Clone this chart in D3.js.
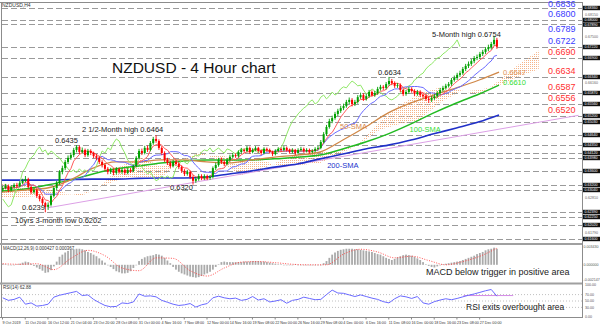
<!DOCTYPE html>
<html><head><meta charset="utf-8">
<script src="https://cdn.jsdelivr.net/npm/d3@7"></script>
<style>body{margin:0;background:#fff}svg{display:block;font-family:"Liberation Sans",Arial,sans-serif}</style>
</head><body><svg id="c" width="600" height="327"></svg>
<script>
// ---------- DATA (8-hour candles, 2 bars of 4h each) ----------
const firstOpen = 0.6305;
const closes = [
.6310,.6316,.6304,.6313,.6319,.6316,.6325,.6331,.6336,.6313,
.6298,.6304,.6287,.6278,.6266,.6255,.6261,.6287,.6310,.6325,
.6357,.6368,.6386,.6398,.6406,.6421,.6430,.6415,.6421,.6406,
.6418,.6412,.6403,.6398,.6386,.6377,.6366,.6357,.6363,.6354,
.6366,.6357,.6363,.6354,.6363,.6360,.6374,.6398,.6418,.6412,
.6427,.6421,.6441,.6453,.6447,.6427,.6412,.6392,.6383,.6374,
.6386,.6380,.6371,.6360,.6351,.6357,.6342,.6331,.6336,.6345,
.6339,.6345,.6339,.6342,.6368,.6377,.6392,.6386,.6380,.6392,
.6401,.6406,.6403,.6415,.6421,.6418,.6427,.6415,.6421,.6427,
.6418,.6412,.6424,.6421,.6415,.6409,.6418,.6424,.6421,.6427,
.6421,.6415,.6421,.6412,.6421,.6424,.6418,.6421,.6415,.6418,
.6424,.6427,.6444,.6467,.6488,.6505,.6514,.6526,.6535,.6543,
.6549,.6561,.6567,.6555,.6561,.6575,.6581,.6570,.6578,.6590,
.6581,.6587,.6599,.6605,.6602,.6613,.6622,.6616,.6608,.6610,
.6596,.6584,.6590,.6599,.6593,.6584,.6590,.6581,.6578,.6570,
.6567,.6572,.6578,.6587,.6596,.6602,.6608,.6613,.6625,.6631,
.6640,.6645,.6657,.6666,.6672,.6680,.6689,.6692,.6701,.6707,
.6715,.6721,.6730,.6742,.6722];
const highs = [
.6316,.6322,.6320,.6318,.6324,.6325,.6330,.6337,.6345,.6340,
.6317,.6311,.6308,.6292,.6283,.6270,.6268,.6292,.6316,.6331,
.6362,.6375,.6392,.6405,.6413,.6427,.6435,.6434,.6428,.6425,
.6424,.6423,.6416,.6409,.6402,.6391,.6382,.6371,.6369,.6367,
.6371,.6370,.6368,.6367,.6369,.6368,.6379,.6403,.6424,.6425,
.6433,.6434,.6447,.6459,.6464,.6452,.6432,.6417,.6398,.6389,
.6392,.6391,.6385,.6376,.6365,.6363,.6361,.6347,.6342,.6351,
.6350,.6350,.6349,.6348,.6373,.6384,.6398,.6399,.6391,.6397,
.6407,.6412,.6411,.6420,.6427,.6426,.6433,.6431,.6426,.6432,
.6430,.6422,.6429,.6428,.6425,.6419,.6423,.6429,.6428,.6432,
.6431,.6425,.6426,.6424,.6426,.6430,.6428,.6426,.6425,.6423,
.6429,.6433,.6450,.6473,.6494,.6512,.6521,.6532,.6541,.6550,
.6556,.6567,.6574,.6572,.6567,.6581,.6588,.6586,.6584,.6596,
.6595,.6593,.6605,.6611,.6610,.6619,.6634,.6628,.6621,.6616,
.6615,.6601,.6596,.6605,.6604,.6598,.6596,.6595,.6587,.6583,
.6576,.6578,.6584,.6593,.6602,.6608,.6614,.6619,.6631,.6638,
.6646,.6652,.6663,.6672,.6679,.6686,.6695,.6699,.6707,.6713,
.6721,.6728,.6736,.6754,.6748];
const lows = [
.6299,.6306,.6298,.6300,.6309,.6311,.6312,.6321,.6327,.6308,
.6292,.6293,.6281,.6271,.6259,.6239,.6246,.6256,.6282,.6304,
.6320,.6350,.6362,.6380,.6392,.6400,.6414,.6409,.6410,.6400,
.6401,.6406,.6397,.6391,.6380,.6370,.6360,.6350,.6351,.6347,
.6349,.6352,.6351,.6348,.6350,.6354,.6356,.6370,.6393,.6406,
.6408,.6415,.6417,.6436,.6442,.6421,.6406,.6386,.6377,.6368,
.6370,.6374,.6365,.6354,.6345,.6346,.6336,.6320,.6325,.6331,
.6333,.6334,.6333,.6334,.6338,.6362,.6372,.6380,.6374,.6376,
.6387,.6396,.6398,.6399,.6410,.6413,.6414,.6410,.6411,.6417,
.6413,.6406,.6408,.6416,.6410,.6403,.6405,.6414,.6416,.6417,
.6416,.6410,.6411,.6406,.6408,.6417,.6413,.6414,.6410,.6411,
.6414,.6420,.6423,.6440,.6462,.6483,.6499,.6509,.6520,.6529,
.6537,.6544,.6555,.6548,.6549,.6556,.6570,.6564,.6565,.6573,
.6576,.6576,.6582,.6594,.6596,.6597,.6608,.6610,.6602,.6602,
.6590,.6578,.6579,.6585,.6588,.6578,.6579,.6575,.6572,.6564,
.6558,.6561,.6567,.6573,.6582,.6591,.6597,.6603,.6608,.6620,
.6625,.6634,.6640,.6651,.6660,.6666,.6674,.6683,.6686,.6695,
.6701,.6709,.6714,.6725,.6716];

// moving averages, one value every 16 bars (last at bar 350)
const smaBars = [0,16,32,48,64,80,96,112,128,144,160,176,192,208,224,240,256,272,288,304,320,336,350];
const sma50  = [.6298,.6304,.6310,.6333,.6368,.6386,.6386,.6392,.6392,.6386,.6383,.6392,.6400,.6406,.6415,.6450,.6488,.6529,.6558,.6581,.6602,.6625,.6648];
const sma100 = [.6301,.6307,.6319,.6333,.6351,.6366,.6374,.6383,.6389,.6392,.6392,.6392,.6395,.6400,.6406,.6424,.6444,.6468,.6497,.6529,.6558,.6584,.6610];
const sma200 = [.6333,.6333,.6333,.6335,.6336,.6336,.6338,.6339,.6339,.6342,.6351,.6360,.6371,.6380,.6395,.6409,.6424,.6435,.6450,.6468,.6485,.6503,.6523];

// ichimoku cloud spans, one value every 14 bars from bar 0
const spanA = [.6322,.6316,.6310,.6298,.6287,.6317,.6375,.6400,.6373,.6392,.6415,.6386,.6347,.6363,.6390,.6411,.6418,.6418,.6441,.6505,.6552,.6584,.6603,.6596,.6582,.6623,.6671,.6711];
const spanB = [.6281,.6284,.6287,.6290,.6293,.6315,.6337,.6337,.6340,.6391,.6405,.6405,.6392,.6392,.6374,.6377,.6383,.6410,.6438,.6480,.6497,.6508,.6558,.6591,.6596,.6610,.6635,.6656];

// MACD main (histogram), one per candle
const macd = [
.0002,.0001,.0000,-.0001,.0000,.0001,.0002,.0004,.0006,.0005,
.0002,-.0002,-.0005,-.0008,-.0011,-.0015,-.0014,-.0010,-.0003,.0006,
.0015,.0019,.0023,.0026,.0028,.0029,.0030,.0030,.0029,.0027,
.0024,.0022,.0019,.0016,.0012,.0008,.0004,.0000,-.0004,-.0008,
-.0012,-.0014,-.0016,-.0016,-.0015,-.0012,-.0006,.0000,.0007,.0011,
.0014,.0016,.0017,.0018,.0020,.0019,.0017,.0013,.0008,.0003,
-.0004,-.0009,-.0013,-.0016,-.0018,-.0020,-.0022,-.0023,-.0024,-.0023,
-.0021,-.0018,-.0016,-.0013,-.0009,-.0004,.0001,.0005,.0006,.0005,
.0005,.0005,.0005,.0005,.0005,.0006,.0006,.0006,.0007,.0007,
.0007,.0006,.0006,.0005,.0004,.0003,.0002,.0001,.0001,.0000,
.0000,.0000,.0000,.0001,.0000,.0000,-.0001,-.0001,-.0001,-.0001,
-.0001,-.0001,.0000,.0003,.0007,.0013,.0019,.0023,.0026,.0028,
.0029,.0030,.0030,.0030,.0029,.0029,.0028,.0027,.0026,.0025,
.0024,.0022,.0020,.0019,.0016,.0013,.0011,.0009,.0011,.0014,
.0016,.0018,.0019,.0018,.0017,.0015,.0012,.0009,.0005,.0001,
-.0002,-.0004,-.0005,-.0003,-.0001,.0001,.0002,.0003,.0004,.0005,
.0006,.0007,.0009,.0011,.0013,.0015,.0017,.0020,.0022,.0024,
.0027,.0029,.0030,.0032,.0030];
// MACD signal, one value every 6 candles
const signal = [.0002,.0001,.0002,-.0009,.0012,.0027,.0017,-.0006,-.0011,.0013,.0012,-.0011,-.0021,-.0006,.0005,.0006,.0004,.0001,.0000,.0000,.0020,.0029,.0024,.0013,.0016,.0008,.0000,.0006,.0016,.0031];
// RSI(14), one value every 2 candles
const rsi = [60,52,55,62,40,44,34,36,40,62,68,72,76,80,67,69,55,45,36,32,
33,44,42,47,72,65,66,63,52,46,40,36,38,42,31,38,42,60,65,60,
57,59,52,55,64,53,57,47,50,54,43,52,55,62,58,54,55,70,84,75,
74,69,64,69,64,59,55,48,44,57,66,63,58,64,44,40,48,53,57,54,
58,63,68,72,77,82,86,65];

const levels = [0.6836,0.6800,0.6789,0.6722,0.6690,0.6634,0.6587,0.6556,0.6520,0.6503,0.6464,0.6435,0.6412,0.6398,0.6360,0.6320,0.6304,0.6239,0.6225,0.6202,0.6160];
const blueLabels = [0.6836,0.6800,0.6789,0.6722];
const redLabels = [0.6690,0.6634,0.6587,0.6556,0.6520];
const grayTicks = [0.6815,0.6750,0.6678,0.6616,0.6479,0.6444,0.6383,0.6281,0.6179];
const timeLabels = ["9 Oct 2019","11 Oct 20:00","16 Oct 12:00","21 Oct 04:00","23 Oct 20:00","28 Oct 08:00","31 Oct 00:00","4 Nov 16:00","7 Nov 08:00","12 Nov 00:00","14 Nov 16:00","19 Nov 08:00","22 Nov 00:00","26 Nov 16:00","29 Nov 08:00","4 Dec 00:00","6 Dec 16:00","11 Dec 08:00","16 Dec 00:00","18 Dec 16:00","23 Dec 08:00","27 Dec 00:00"];
const trendLine = [{bar:32, price:0.6252},{bar:406, price:0.6522}];
const annotations = [
 {t:"5-Month high 0.6754", bar:302.8, p:0.6754, dy:1},
 {t:"0.6634", bar:264.8, p:0.6634, dy:-2},
 {t:"2 1/2-Month high 0.6464", bar:56.3, p:0.6464, dy:-3},
 {t:"0.6435", bar:37.3, p:0.6435, dy:-2},
 {t:"0.6320", bar:118.3, p:0.6320, dy:5},
 {t:"0.6239", bar:14.1, p:0.6239, dy:-2},
 {t:"10yrs 3-month low 0.6202", bar:9.2, p:0.6202, dy:-2}
];
const maLabels = [
 {t:"50-SMA", bar:238, p:0.6482, c:"#d8874a"},
 {t:"100-SMA", bar:287, p:0.6473, c:"#33dd33"},
 {t:"200-SMA", bar:229, p:0.6368, c:"#2233cc"},
 {t:"0.6647", bar:352.8, p:0.6640, c:"#e0955a"},
 {t:"0.6610", bar:352.8, p:0.6610, c:"#33dd33"}
];

// ---------- SCALES ----------
const svg = d3.select('#c');
const PL = 2, PR = 582;
const xBar = d3.scaleLinear().domain([0,408]).range([2,581.4]);
const yMain = d3.scaleLinear().domain([0.6520,0.6800]).range([116,20]);
const yMacd = d3.scaleLinear().domain([-0.0034,0.0037]).range([283,245]);
const yRsi = d3.scaleLinear().domain([0,100]).range([317,285]);
const cx = k => xBar(2*k+0.5);

const defs = svg.append('defs');
defs.append('clipPath').attr('id','clipMain').append('rect').attr('x',PL).attr('y',3).attr('width',PR-PL).attr('height',240);
const pat = defs.append('pattern').attr('id','dots').attr('width',2).attr('height',2).attr('patternUnits','userSpaceOnUse');
pat.append('rect').attr('width',1).attr('height',1).attr('fill','#f6b488');

// ---------- FRAME ----------
const frame = svg.append('g').attr('stroke','#8c8c8c').attr('fill','none');
frame.append('line').attr('x1',0).attr('x2',PR).attr('y1',2.5).attr('y2',2.5);
frame.append('line').attr('x1',1.5).attr('x2',1.5).attr('y1',2).attr('y2',318);
frame.append('line').attr('x1',PR+0.5).attr('x2',PR+0.5).attr('y1',2).attr('y2',318);
frame.append('line').attr('x1',0).attr('x2',PR).attr('y1',244).attr('y2',244).attr('stroke-width',2).attr('stroke','#a0a0a0');
frame.append('line').attr('x1',0).attr('x2',PR).attr('y1',283.5).attr('y2',283.5).attr('stroke-width',2).attr('stroke','#a0a0a0');
frame.append('line').attr('x1',0).attr('x2',PR).attr('y1',317.5).attr('y2',317.5);

// ---------- MAIN PANEL ----------
const main = svg.append('g').attr('clip-path','url(#clipMain)');
main.selectAll('line.lvl').data(levels).join('line').attr('class','lvl')
  .attr('x1',PL).attr('x2',PR)
  .attr('y1',d=>Math.round(yMain(d))+0.5).attr('y2',d=>Math.round(yMain(d))+0.5)
  .attr('stroke','#9a9a9a').attr('stroke-dasharray','6,3').attr('stroke-width',1);

// cloud
const cloudIdx = d3.range(spanA.length);
main.append('path').datum(cloudIdx)
  .attr('d', d3.area().x(i=>xBar(i*14)).y0(i=>yMain(spanB[i])).y1(i=>yMain(spanA[i])))
  .attr('fill','url(#dots)');

// trend line
main.append('line')
  .attr('x1',xBar(trendLine[0].bar)).attr('y1',yMain(trendLine[0].price))
  .attr('x2',xBar(trendLine[1].bar)).attr('y2',yMain(trendLine[1].price))
  .attr('stroke','#dca0e6').attr('stroke-width',1);

// SMAs
const smaLine = arr => d3.line().x((d,i)=>xBar(smaBars[i])).y(d=>yMain(d)).curve(d3.curveMonotoneX)(arr);
main.append('path').attr('d',smaLine(sma200)).attr('fill','none').attr('stroke','#2030c8').attr('stroke-width',1.6);
main.append('path').attr('d',smaLine(sma100)).attr('fill','none').attr('stroke','#22bb22').attr('stroke-width',1.5);
main.append('path').attr('d',smaLine(sma50)).attr('fill','none').attr('stroke','#d08848').attr('stroke-width',1.3);

// ichimoku lines derived from candles
const N = closes.length;
const opens = closes.map((c,i)=> i===0 ? firstOpen : closes[i-1]);
function midline(p){ return closes.map((_,i)=>{ const s=Math.max(0,i-p+1); return (d3.max(highs.slice(s,i+1))+d3.min(lows.slice(s,i+1)))/2; }); }
const tenkan = midline(5), kijun = midline(13);
const chikouIdx = d3.range(13, N);
main.append('path').datum(chikouIdx)
  .attr('d', d3.line().x(k=>cx(k-13)).y(k=>yMain(closes[k])))
  .attr('fill','none').attr('stroke','#8fe866').attr('stroke-width',1);
main.append('path').datum(kijun)
  .attr('d', d3.line().x((d,i)=>cx(i)).y(d=>yMain(d)))
  .attr('fill','none').attr('stroke','#6a6aff').attr('stroke-width',1);
main.append('path').datum(tenkan)
  .attr('d', d3.line().x((d,i)=>cx(i)).y(d=>yMain(d)))
  .attr('fill','none').attr('stroke','#ff5a5a').attr('stroke-width',1);

// candles
const cd = d3.range(N).map(k=>({k, o:opens[k], c:closes[k], h:highs[k], l:lows[k]}));
const cg = main.append('g');
cg.selectAll('line').data(cd).join('line')
  .attr('x1',d=>cx(d.k)).attr('x2',d=>cx(d.k))
  .attr('y1',d=>yMain(d.h)).attr('y2',d=>yMain(d.l))
  .attr('stroke',d=>d.c>=d.o?'#00a000':'#ff0000').attr('stroke-width',0.9);
cg.selectAll('rect').data(cd).join('rect')
  .attr('x',d=>cx(d.k)-1).attr('width',2)
  .attr('y',d=>yMain(Math.max(d.o,d.c)))
  .attr('height',d=>Math.max(0.8, Math.abs(yMain(d.o)-yMain(d.c))))
  .attr('fill',d=>d.c>=d.o?'#00a000':'#ff0000');

// texts main
svg.append('text').attr('x',2).attr('y',7).attr('font-size',5).attr('fill','#333').text('NZDUSD,H4');
svg.append('text').attr('x',112).attr('y',73).attr('font-size',15.5).attr('fill','#111').text('NZDUSD - 4 Hour chart');
svg.selectAll('text.ann').data(annotations).join('text').attr('class','ann')
  .attr('x',d=>xBar(d.bar)).attr('y',d=>yMain(d.p)+d.dy)
  .attr('font-size',7.5).attr('fill','#222').text(d=>d.t);
svg.selectAll('text.mal').data(maLabels).join('text').attr('class','mal')
  .attr('x',d=>xBar(d.bar)).attr('y',d=>yMain(d.p))
  .attr('font-size',7.5).attr('fill',d=>d.c).text(d=>d.t);
const lblX = xBar(384.5);
svg.selectAll('text.bl').data(blueLabels).join('text').attr('class','bl')
  .attr('x',lblX).attr('y',d=> yMain(d) + (d===0.6789 ? 8 : (d===0.6836 ? -0.5 : -3)))
  .attr('font-size',9).attr('fill','#3b3bff').text(d=>d.toFixed(4));
svg.selectAll('text.rl').data(redLabels).join('text').attr('class','rl')
  .attr('x',lblX).attr('y',d=>yMain(d)-3)
  .attr('font-size',9).attr('fill','#ff3030').text(d=>d.toFixed(4));

// right axis: level boxes, pushed apart so they do not overlap
const ra = svg.append('g');
const boxY = []; let prev = -10;
levels.forEach(d=>{ let y = Math.round(yMain(d))-2.2; if (y < prev+4.6) y = prev+4.6; boxY.push(y); prev = y; });
ra.selectAll('text.g').data(grayTicks.filter(t=>boxY.every(b=>Math.abs(yMain(t)-(b+2.2))>5)))
  .join('text').attr('class','g')
  .attr('x',585).attr('y',d=>yMain(d)+1.3).attr('font-size',3.6).attr('fill','#666').text(d=>d.toFixed(5));
const boxes = ra.selectAll('g.b').data(levels).join('g').attr('class','b')
  .attr('transform',(d,i)=>`translate(583,${boxY[i]})`);
boxes.append('rect').attr('width',17).attr('height',4.4).attr('fill','#111');
boxes.append('text').attr('x',1.5).attr('y',3.5).attr('font-size',3.6).attr('fill','#fff').text(d=>d.toFixed(5));

// ---------- MACD PANEL ----------
const mg = svg.append('g');
mg.selectAll('rect').data(macd).join('rect')
  .attr('x',(d,k)=>cx(k)-0.9).attr('width',1.8)
  .attr('y',d=>Math.min(yMacd(0),yMacd(d)))
  .attr('height',d=>Math.max(0.5, Math.abs(yMacd(d)-yMacd(0))))
  .attr('fill','#aaaaaa');
mg.append('path').datum(signal)
  .attr('d', d3.line().x((d,i)=>cx(i*6)).y(d=>yMacd(d)).curve(d3.curveMonotoneX))
  .attr('fill','none').attr('stroke','#ff4040').attr('stroke-width',0.9).attr('stroke-dasharray','1,1.5');
svg.append('text').attr('x',3).attr('y',250).attr('font-size',4.5).attr('fill','#333').text('MACD(12,26,9) 0.000427 0.000367');
svg.append('text').attr('x',569.5).attr('y',275).attr('text-anchor','end').attr('font-size',9).attr('fill','#222').text('MACD below trigger in positive area');
[[0.00343,'0.003430'],[0,'0.000000'],[-0.0027,'-0.002147']].forEach(([v,t])=>{
  svg.append('text').attr('x',583.5).attr('y',yMacd(v)+1.3).attr('font-size',3.6).attr('fill','#555').text(t);
});

// ---------- RSI PANEL ----------
const rg = svg.append('g');
rg.selectAll('line').data([70,50,30]).join('line')
  .attr('x1',PL).attr('x2',PR).attr('y1',d=>yRsi(d)).attr('y2',d=>yRsi(d))
  .attr('stroke','#b0b0b0').attr('stroke-dasharray','1,2').attr('stroke-width',0.8);
rg.append('line').attr('x1',xBar(325)).attr('x2',xBar(360)).attr('y1',yRsi(67)).attr('y2',yRsi(67))
  .attr('stroke','#d48be6').attr('stroke-width',1);
rg.append('path').datum(rsi)
  .attr('d', d3.line().x((d,j)=>cx(2*j)).y(d=>yRsi(d)))
  .attr('fill','none').attr('stroke','#6a6aff').attr('stroke-width',1);
svg.append('text').attr('x',3).attr('y',289).attr('font-size',4.5).attr('fill','#333').text('RSI(14) 62.88');
svg.append('text').attr('x',466).attr('y',310).attr('font-size',8.5).attr('fill','#222').text('RSI exits overbought area');
[100,70,50,30,0].forEach(v=>{
  svg.append('text').attr('x',585).attr('y',yRsi(v)+1.3).attr('font-size',3.6).attr('fill','#555').text(v.toFixed(2));
});

// ---------- TIME AXIS ----------
const ax = svg.append('g').attr('transform','translate(0,317.5)')
  .call(d3.axisBottom(xBar).tickValues(timeLabels.map((_,i)=>i*16)).tickFormat((d,i)=>timeLabels[i]).tickSize(2).tickSizeOuter(0));
ax.select('.domain').remove();
ax.selectAll('line').attr('stroke','#888');
ax.selectAll('text').attr('font-size',3.7).attr('fill','#333').attr('text-anchor','start').attr('dx',0).attr('dy',1)
  .attr('font-family','"Liberation Sans",Arial,sans-serif');
</script></body></html>
